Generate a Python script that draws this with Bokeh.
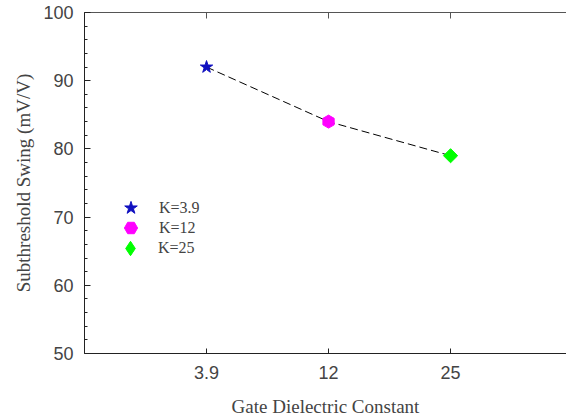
import math
from bokeh.plotting import figure
from bokeh.models import (Range1d, FixedTicker, LinearAxis, Legend, LegendItem,
                          ColumnDataSource)
from bokeh.embed import file_html
from bokeh.resources import INLINE

# Gate dielectric constants and the subthreshold swing for each
categories = ["3.9", "12", "25"]
swing = [92, 84, 79]
legend_labels = ["K=3.9", "K=12", "K=25"]
marker_types = ["star", "hex", "square"]
marker_angles = [0, 90, 45]
legend_markers = ["star", "hex", "diamond"]
marker_colors = ["#1010c0", "#ff00ff", "#00ff00"]
marker_sizes = [13, 13, 10]

x_pos = list(range(1, len(categories) + 1))
ticks_y = [50, 60, 70, 80, 90, 100]

p = figure(width=566, height=419, output_backend="svg", toolbar_location=None,
           x_range=Range1d(0, 3.95), y_range=Range1d(50, 100),
           min_border_left=84, min_border_right=0, min_border_top=12,
           min_border_bottom=66)
p.outline_line_color = None
p.xgrid.visible = False
p.ygrid.visible = False

label_font = "Liberation Serif"
tick_font = "Liberation Sans"
axis_color = "#222222"

xa = p.xaxis[0]
xa.ticker = FixedTicker(ticks=x_pos)
xa.major_label_overrides = {x: c for x, c in zip(x_pos, categories)}
xa.major_tick_in = 5
xa.major_tick_out = 0
xa.minor_tick_in = 0
xa.minor_tick_out = 0
xa.major_label_standoff = 12
xa.axis_label = "Gate Dielectric Constant"
xa.axis_label_text_font = label_font
xa.axis_label_text_font_style = "normal"
xa.axis_label_text_font_size = "19px"
xa.axis_label_standoff = 14
xa.major_label_text_font = tick_font
xa.major_label_text_font_size = "18px"
xa.axis_line_color = axis_color
xa.major_tick_line_color = axis_color

ya = p.yaxis[0]
ya.ticker = FixedTicker(ticks=ticks_y, minor_ticks=list(range(50, 101, 2)))
ya.major_tick_in = 6
ya.major_tick_out = 0
ya.minor_tick_in = 3
ya.minor_tick_out = 0
ya.major_label_standoff = 11
ya.axis_label = "Subthreshold Swing (mV/V)"
ya.axis_label_text_font = label_font
ya.axis_label_text_font_style = "normal"
ya.axis_label_text_font_size = "19px"
ya.axis_label_standoff = 6
ya.major_label_text_font = tick_font
ya.major_label_text_font_size = "18px"
ya.axis_line_color = axis_color
ya.major_tick_line_color = axis_color
ya.minor_tick_line_color = axis_color

top = LinearAxis(ticker=FixedTicker(ticks=x_pos), major_label_text_font_size="0px",
                 major_tick_in=6, major_tick_out=0, minor_tick_in=0, minor_tick_out=0,
                 axis_line_color="#555555", major_tick_line_color="#555555")
p.add_layout(top, "above")

# dashed trend line through the points
p.line(x_pos, swing, line_color="black", line_dash="8 4", line_width=1)

# one scatter renderer per dielectric, each with its own one-row legend
# (legend swatches ignore marker rotation, so a hidden twin supplies the swatch)
legend_box = [33, 33, 36]
for i in range(len(categories)):
    src = ColumnDataSource(dict(x=[x_pos[i]], y=[swing[i]]))
    r = p.scatter("x", "y", source=src, marker=marker_types[i], size=marker_sizes[i],
                  angle=math.radians(marker_angles[i]),
                  fill_color=marker_colors[i], line_color=marker_colors[i])
    if legend_markers[i] != marker_types[i]:
        r = p.scatter("x", "y", source=src, marker=legend_markers[i],
                      fill_color=marker_colors[i], line_color=marker_colors[i],
                      visible=False)
    g = legend_box[i]
    row_center = 145 - 20 * i
    lg = Legend(items=[LegendItem(label=legend_labels[i], renderers=[r])],
                location=(46 - g // 2, row_center - g // 2),
                padding=0, margin=0, spacing=0,
                glyph_width=g, glyph_height=g, label_standoff=28 - g // 2,
                label_text_font=label_font, label_text_font_size="16px",
                border_line_color=None, background_fill_alpha=0)
    p.add_layout(lg, "center")

open("out.html", "w").write(file_html(p, INLINE))
